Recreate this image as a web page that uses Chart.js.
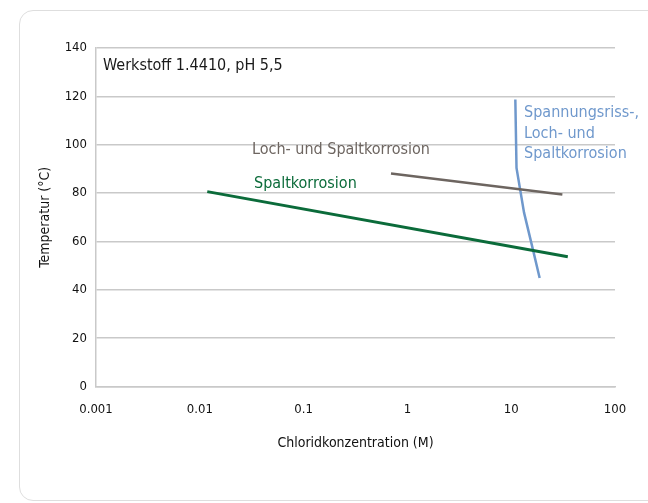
<!DOCTYPE html>
<html>
<head>
<meta charset="utf-8">
<script src="https://cdn.jsdelivr.net/npm/chart.js@4/dist/chart.umd.min.js"></script>
<style>
  html, body { margin: 0; padding: 0; background: #fff; overflow: hidden; }
  #card {
    position: absolute; left: 19px; top: 10px; width: 700px; height: 489px;
    border: 1px solid #dedede; border-radius: 14px;
  }
  #chart { position: absolute; left: 0; top: 0; }
</style>
</head>
<body>
<div id="card"></div>
<canvas id="chart" width="648" height="503"></canvas>
<script>
// Chloride concentration (M) vs. temperature (°C) limits
const xTicks = [0.001, 0.01, 0.1, 1, 10, 100];
const yTicks = [0, 20, 40, 60, 80, 100, 120, 140];

const spaltX = [0.0118, 35.1];
const spaltY = [80.6, 53.7];

const lochX = [0.695, 31.1];
const lochY = [88.1, 79.4];

const rissX = [10.96, 11.25, 13.3, 16.2, 18.8];
const rissY = [118.7, 90.4, 71.9, 56.6, 44.9];

const FONT = "'Liberation Sans Narrow', 'DejaVu Sans Condensed', Roboto, sans-serif";

function toPoints(xs, ys) {
  return xs.map((x, i) => ({ x: x, y: ys[i] }));
}

// text labels, anchored in data coordinates
const curveLabels = [
  { lines: ['Loch- und Spaltkorrosion'], x: 0.0318, y: 98.0, color: '#6d6560' },
  { lines: ['Spaltkorrosion'], x: 0.0333, y: 84.0, color: '#0b6b3a' },
  { lines: ['Spannungsriss-,', 'Loch- und', 'Spaltkorrosion'], x: 13.3, y: 113.0, color: '#6f98cc' }
];

const labelPlugin = {
  id: 'curveLabels',
  afterDatasetsDraw(chart) {
    const ctx = chart.ctx;
    const xs = chart.scales.x, ys = chart.scales.y;
    ctx.save();
    ctx.textBaseline = 'middle';
    ctx.textAlign = 'left';
    // panel caption
    ctx.font = '16px ' + FONT;
    ctx.fillStyle = '#1a1a1a';
    ctx.fillText('Werkstoff 1.4410, pH 5,5', chart.chartArea.left + 7, chart.chartArea.top + 18);
    curveLabels.forEach(l => {
      const px = xs.getPixelForValue(l.x);
      const py = ys.getPixelForValue(l.y);
      ctx.fillStyle = l.color;
      ctx.font = '16px ' + FONT;
      l.lines.forEach((t, i) => ctx.fillText(t, px, py + i * 20.5));
    });
    ctx.restore();
  }
};

new Chart(document.getElementById('chart'), {
  type: 'line',
  data: {
    datasets: [
      {
        label: 'Spaltkorrosion',
        data: toPoints(spaltX, spaltY),
        borderColor: '#0b6b3a',
        borderWidth: 3
      },
      {
        label: 'Loch- und Spaltkorrosion',
        data: toPoints(lochX, lochY),
        borderColor: '#6d6560',
        borderWidth: 2.5
      },
      {
        label: 'Spannungsriss-, Loch- und Spaltkorrosion',
        data: toPoints(rissX, rissY),
        borderColor: '#6f98cc',
        borderWidth: 2.5
      }
    ]
  },
  options: {
    responsive: false,
    animation: false,
    events: [],
    elements: { point: { radius: 0 }, line: { tension: 0, borderCapStyle: 'butt' } },
    layout: { padding: { top: 48, right: 33, left: 0, bottom: 0 } },
    plugins: { legend: { display: false }, tooltip: { enabled: false } },
    scales: {
      x: {
        type: 'logarithmic',
        min: 0.001,
        max: 100,
        afterFit(scale) { scale.height = 116.5; },
        afterBuildTicks(scale) { scale.ticks = xTicks.map(v => ({ value: v })); },
        grid: { display: false, drawTicks: false },
        border: { display: true, color: '#c9c9c9', width: 1.5 },
        ticks: {
          padding: 15,
          color: '#111',
          font: { family: FONT, size: 13 },
          autoSkip: false,
          maxRotation: 0,
          callback: v => String(v)
        },
        title: {
          display: true,
          text: 'Chloridkonzentration (M)',
          color: '#111',
          font: { family: FONT, size: 14 },
          padding: { top: 0, bottom: 51 }
        }
      },
      y: {
        min: 0,
        max: 140,
        afterFit(scale) { scale.width = 96; },
        afterBuildTicks(scale) { scale.ticks = yTicks.map(v => ({ value: v })); },
        grid: { color: '#c9c9c9', lineWidth: 1.5, drawTicks: false },
        border: { display: true, color: '#c9c9c9', width: 1.5 },
        ticks: {
          padding: 9,
          color: '#111',
          font: { family: FONT, size: 13 }
        },
        title: {
          display: true,
          text: 'Temperatur (°C)',
          color: '#111',
          font: { family: FONT, size: 14 },
          padding: { top: 37, bottom: 0 }
        }
      }
    }
  },
  plugins: [labelPlugin]
});
</script>
</body>
</html>
